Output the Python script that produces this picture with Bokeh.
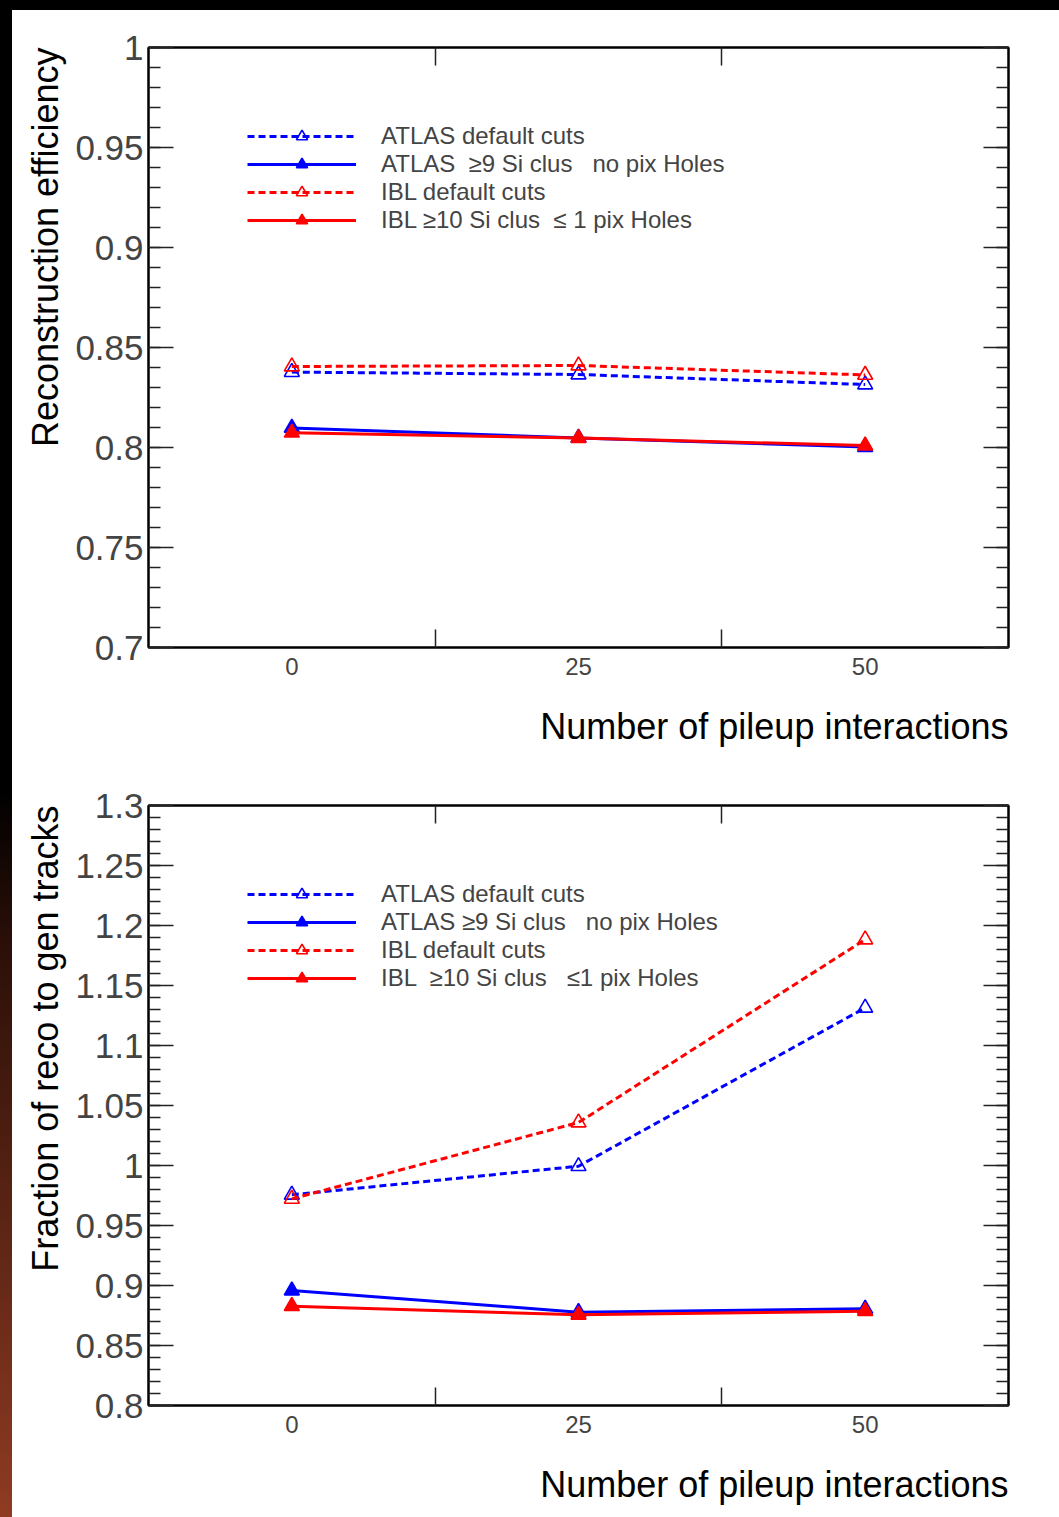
from bokeh.plotting import figure
from bokeh.models import (Range1d, LinearAxis, FixedTicker, SingleIntervalTicker,
                          CustomJSTickFormatter, Legend, LegendItem, Title, Spacer)
from bokeh.layouts import row, column
from bokeh.embed import file_html
from bokeh.resources import INLINE

# ---------------- data ----------------
pileup = [0, 25, 50]
x_tick_labels = ["0", "25", "50"]
bin_edges = [12.5, 37.5]

eff_atlas_default = [0.8377, 0.8365, 0.8315]
eff_atlas_tight = [0.8098, 0.8048, 0.8002]
eff_ibl_default = [0.8405, 0.8410, 0.8363]
eff_ibl_tight = [0.8074, 0.8047, 0.8010]

frac_atlas_default = [0.9756, 0.9994, 1.1314]
frac_atlas_tight = [0.8958, 0.8778, 0.8806]
frac_ibl_default = [0.9722, 1.0358, 1.1883]
frac_ibl_tight = [0.8828, 0.8756, 0.8786]

NB = "\u00a0"
labels_top = ["ATLAS default cuts",
              "ATLAS " + NB + "\u22659 Si clus " + NB + NB + "no pix Holes",
              "IBL default cuts",
              "IBL \u226510 Si clus " + NB + "\u2264 1 pix Holes"]
labels_bottom = ["ATLAS default cuts",
                 "ATLAS \u22659 Si clus " + NB + NB + "no pix Holes",
                 "IBL default cuts",
                 "IBL " + NB + "\u226510 Si clus " + NB + NB + "\u22641 pix Holes"]
x_title = "Number of pileup interactions"

FONT = "Liberation Sans"
BLUE = "#0000ff"
RED = "#ff0000"


def make_fig(height, y0, y1, border_bottom, ytitle, series, labels):
    p = figure(width=1047, height=height, x_range=Range1d(-12.5, 62.5),
               y_range=Range1d(y0, y1), output_backend="svg", toolbar_location=None,
               min_border_left=136, min_border_right=51, min_border_top=37,
               min_border_bottom=border_bottom, x_axis_type=None, y_axis_type=None)
    p.outline_line_color = "black"
    p.outline_line_width = 2
    p.background_fill_color = "white"
    p.border_fill_color = "white"

    fmt = CustomJSTickFormatter(code="return String(Math.round(tick*100)/100);")

    # bottom axis (labels at bin centres, ticks at bin edges)
    xb = LinearAxis(ticker=FixedTicker(ticks=pileup, minor_ticks=bin_edges),
                    major_label_overrides={v: s for v, s in zip(pileup, x_tick_labels)})
    xb.major_tick_in = 0
    xb.major_tick_out = 0
    xb.minor_tick_in = 18
    xb.minor_tick_out = 0
    xb.minor_tick_line_width = 1.5
    xb.minor_tick_line_color = "#222222"
    xb.axis_line_width = 2
    xb.major_label_text_font = FONT
    xb.major_label_text_font_size = "24px"
    xb.major_label_standoff = 10
    p.add_layout(xb, "below")

    # top axis (ticks only)
    xt = LinearAxis(ticker=FixedTicker(ticks=bin_edges))
    xt.major_tick_in = 18
    xt.major_tick_out = 0
    xt.minor_tick_in = 0
    xt.minor_tick_out = 0
    xt.major_tick_line_width = 1.5
    xt.major_tick_line_color = "#222222"
    xt.major_label_text_font_size = "0px"
    xt.major_label_standoff = 0
    xt.axis_line_width = 2
    p.add_layout(xt, "above")

    # left axis
    yl = LinearAxis(ticker=SingleIntervalTicker(interval=0.05, num_minor_ticks=5),
                    formatter=fmt)
    yl.major_tick_in = 25
    yl.major_tick_out = 0
    yl.minor_tick_in = 12
    yl.minor_tick_out = 0
    yl.major_tick_line_width = 1.5
    yl.minor_tick_line_width = 1.5
    yl.major_tick_line_color = "#222222"
    yl.minor_tick_line_color = "#222222"
    yl.axis_line_width = 2
    yl.major_label_text_font = FONT
    yl.major_label_text_font_size = "35px"
    yl.major_label_standoff = 5
    p.add_layout(yl, "left")

    # right axis (ticks only)
    yr = LinearAxis(ticker=SingleIntervalTicker(interval=0.05, num_minor_ticks=5))
    yr.major_tick_in = 25
    yr.major_tick_out = 0
    yr.minor_tick_in = 12
    yr.minor_tick_out = 0
    yr.major_tick_line_width = 1.5
    yr.minor_tick_line_width = 1.5
    yr.major_tick_line_color = "#222222"
    yr.minor_tick_line_color = "#222222"
    yr.major_label_text_font_size = "0px"
    yr.major_label_standoff = 0
    yr.axis_line_width = 2
    p.add_layout(yr, "right")

    t_left = Title(text=ytitle, align="right", text_font=FONT, text_font_size="36px",
                   text_font_style="normal", text_color="black", standoff=14)
    p.add_layout(t_left, "left")

    # small blank spacer title, then the x-axis title (right aligned, ROOT style)
    t_gap = Title(text=NB, align="right", text_font=FONT, text_font_size="2px",
                  text_font_style="normal", text_color="white", standoff=22)
    p.add_layout(t_gap, "below")
    t_below = Title(text=x_title, align="right", text_font=FONT,
                    text_font_size="36px", text_font_style="normal", text_color="black",
                    standoff=0)
    p.add_layout(t_below, "below")

    styles = [(BLUE, "7 4", None), (BLUE, "solid", BLUE), (RED, "7 4", None), (RED, "solid", RED)]
    items = []
    for (col, dash, fill), vals, lab in zip(styles, series, labels):
        ln = p.line(pileup, vals, line_color=col, line_width=3, line_dash=dash)
        sc = p.scatter(pileup, vals, marker="triangle", size=15, line_color=col,
                       fill_color=fill, line_width=1.6)
        items.append(LegendItem(label=lab, renderers=[ln, sc]))

    leg = Legend(items=items, location=(99, 413), orientation="vertical",
                 label_text_font=FONT, label_text_font_size="24px",
                 glyph_width=109, glyph_height=28, label_height=28, spacing=0,
                 padding=0, margin=0, label_standoff=25,
                 border_line_color=None, background_fill_alpha=0)
    p.add_layout(leg, "center")
    return p


p1 = make_fig(758, 0.7, 1.0, 121, "Reconstruction efficiency",
              [eff_atlas_default, eff_atlas_tight, eff_ibl_default, eff_ibl_tight], labels_top)
p2 = make_fig(749, 0.8, 1.3, 112, "Fraction of reco to gen tracks",
              [frac_atlas_default, frac_atlas_tight, frac_ibl_default, frac_ibl_tight], labels_bottom)

strip = Spacer(width=12, height=1517,
               styles={"background": "linear-gradient(to bottom, #000000 0%, #000000 52%, #2a0f08 62%, #5a2414 80%, #8f3b22 100%)"})
bar = Spacer(width=1047, height=10, styles={"background": "#000000"})
root = row(strip, column(bar, p1, p2, spacing=0), spacing=0)

open("out.html", "w").write(file_html(root, INLINE))
